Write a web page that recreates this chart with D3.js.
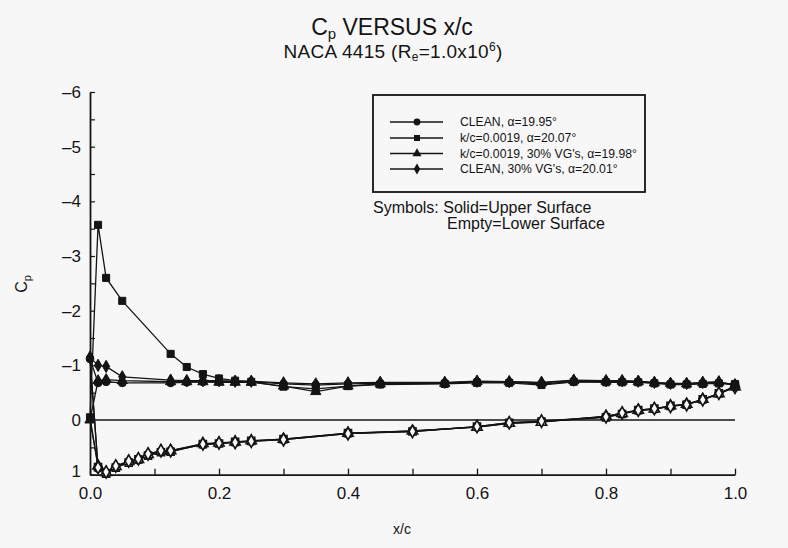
<!DOCTYPE html>
<html><head><meta charset="utf-8">
<script src="https://cdn.jsdelivr.net/npm/d3@7"></script>
<style>
html,body{margin:0;padding:0;background:#f7f7f7;}
svg{display:block;font-family:"Liberation Sans",Arial,sans-serif;}
</style></head>
<body>
<svg id="c" width="788" height="548"></svg>
<script>
// ---- data ----
const seriesNames = ["CLEAN, \u03b1=19.95\u00b0", "k/c=0.0019, \u03b1=20.07\u00b0", "k/c=0.0019, 30% VG's, \u03b1=19.98\u00b0", "CLEAN, 30% VG's, \u03b1=20.01\u00b0"];
const xUpper = [0, 0.0125, 0.025, 0.05, 0.125, 0.15, 0.175, 0.2, 0.225, 0.25, 0.3, 0.35, 0.4, 0.45, 0.55, 0.6, 0.65, 0.7, 0.75, 0.8, 0.825, 0.85, 0.875, 0.9, 0.925, 0.95, 0.975, 1.0];
const cpUpperClean   = [-1.12,-0.68,-0.70,-0.68,-0.68,-0.69,-0.70,-0.70,-0.70,-0.70,-0.66,-0.64,-0.66,-0.67,-0.68,-0.70,-0.69,-0.66,-0.70,-0.70,-0.70,-0.70,-0.68,-0.66,-0.66,-0.67,-0.68,-0.64];
const cpUpperRough   = [-0.05,-3.57,-2.60,-2.18,-1.21,-0.97,-0.84,-0.76,-0.72,-0.70,-0.61,-0.57,-0.62,-0.65,-0.66,-0.68,-0.68,-0.64,-0.70,-0.69,-0.69,-0.69,-0.67,-0.65,-0.65,-0.66,-0.67,-0.66];
const cpUpperRoughVG = [0.00,-0.72,-0.74,-0.72,-0.70,-0.70,-0.70,-0.69,-0.69,-0.69,-0.62,-0.52,-0.62,-0.66,-0.67,-0.70,-0.70,-0.68,-0.72,-0.71,-0.71,-0.70,-0.68,-0.67,-0.66,-0.68,-0.69,-0.65];
const cpUpperCleanVG = [-1.15,-1.00,-0.98,-0.79,-0.73,-0.72,-0.72,-0.72,-0.71,-0.71,-0.68,-0.66,-0.68,-0.69,-0.69,-0.71,-0.70,-0.69,-0.73,-0.72,-0.72,-0.71,-0.69,-0.67,-0.67,-0.69,-0.70,-0.63];
const xLower = [0.0125, 0.025, 0.04, 0.06, 0.075, 0.09, 0.11, 0.125, 0.175, 0.2, 0.225, 0.25, 0.3, 0.4, 0.5, 0.6, 0.65, 0.7, 0.8, 0.825, 0.85, 0.875, 0.9, 0.925, 0.95, 0.975, 1.0];
const cpLowerClean   = [0.88,0.97,0.86,0.77,0.73,0.64,0.58,0.57,0.45,0.43,0.41,0.39,0.36,0.25,0.20,0.13,0.06,0.03,-0.06,-0.12,-0.17,-0.20,-0.25,-0.29,-0.37,-0.48,-0.60];
const cpLowerRough   = [0.86,0.98,0.87,0.78,0.72,0.65,0.59,0.58,0.44,0.43,0.40,0.38,0.35,0.24,0.21,0.12,0.05,0.03,-0.05,-0.11,-0.18,-0.21,-0.26,-0.28,-0.38,-0.49,-0.62];
const cpLowerRoughVG = [0.84,0.96,0.85,0.76,0.72,0.63,0.57,0.56,0.43,0.42,0.40,0.38,0.35,0.24,0.20,0.13,0.06,0.04,-0.07,-0.12,-0.18,-0.20,-0.26,-0.29,-0.38,-0.48,-0.61];
const cpLowerCleanVG = [0.87,0.95,0.84,0.75,0.71,0.62,0.56,0.56,0.44,0.42,0.41,0.39,0.36,0.25,0.21,0.12,0.05,0.02,-0.06,-0.13,-0.18,-0.21,-0.25,-0.28,-0.37,-0.49,-0.60];
const xTicks = [0, 0.1, 0.2, 0.3, 0.4, 0.5, 0.6, 0.7, 0.8, 0.9, 1.0];
const yTicks = [-6, -5.5, -5, -4.5, -4, -3.5, -3, -2.5, -2, -1.5, -1, -0.5, 0, 0.5, 1];

const series = [
  {name: seriesNames[0], sym: d3.symbolCircle,   size: 48, up: cpUpperClean,   lo: cpLowerClean},
  {name: seriesNames[1], sym: d3.symbolSquare,   size: 50, up: cpUpperRough,   lo: cpLowerRough},
  {name: seriesNames[2], sym: d3.symbolTriangle, size: 46, up: cpUpperRoughVG, lo: cpLowerRoughVG},
  {name: seriesNames[3], sym: d3.symbolDiamond,  size: 44, up: cpUpperCleanVG, lo: cpLowerCleanVG}
];

// ---- drawing ----
const svg = d3.select("#c");
const ink = "#141414";
svg.append("rect").attr("width",788).attr("height",548).attr("fill","#f7f7f7");

const x = d3.scaleLinear().domain([0,1]).range([90,735]);
const y = d3.scaleLinear().domain([-6,1]).range([92,474.7]);

// title
const t = svg.append("text").attr("x",392).attr("y",35).attr("text-anchor","middle")
  .attr("font-size",23).attr("fill",ink);
t.append("tspan").text("C");
t.append("tspan").attr("font-size",15).attr("dy",4).text("p");
t.append("tspan").attr("dy",-4).text(" VERSUS x/c");
const st = svg.append("text").attr("x",393).attr("y",58).attr("text-anchor","middle")
  .attr("font-size",19).attr("letter-spacing",0.3).attr("fill",ink);
st.append("tspan").text("NACA 4415 (R");
st.append("tspan").attr("font-size",12).attr("dy",3).text("e");
st.append("tspan").attr("dy",-3).text("=1.0x10");
st.append("tspan").attr("font-size",12).attr("dy",-7).text("6");
st.append("tspan").attr("dy",7).text(")");

// axes
const fmtX = d => (Math.round(d*10)%2===0) ? d3.format(".1f")(d) : "";
const gx = svg.append("g").attr("transform",`translate(0,${y(1)})`)
  .call(d3.axisBottom(x).tickValues(xTicks).tickSizeInner(-6).tickSizeOuter(0).tickPadding(12).tickFormat(fmtX));
gx.selectAll("text").attr("font-size",17).attr("fill",ink).attr("font-family","Liberation Sans, Arial, sans-serif");
gx.selectAll("line").attr("stroke",ink).attr("stroke-width",1.3);
gx.select(".domain").attr("stroke",ink).attr("stroke-width",1.8);

const fmtY = d => Number.isInteger(d) ? (d<0 ? "\u2013"+(-d) : String(d)) : "";
const gy = svg.append("g").attr("transform",`translate(${x(0)},0)`)
  .call(d3.axisLeft(y).tickValues(yTicks).tickSizeInner(-5).tickSizeOuter(0).tickPadding(9).tickFormat(fmtY));
gy.selectAll("text").attr("font-size",17).attr("fill",ink).attr("font-family","Liberation Sans, Arial, sans-serif");
gy.selectAll("line").attr("stroke",ink).attr("stroke-width",1.2);
gy.select(".domain").attr("stroke",ink).attr("stroke-width",1.8);
gy.selectAll(".tick").filter(d => d===1).select("text").attr("dy","0.1em");

// axis titles
const yl = svg.append("text").attr("transform","translate(27,284) rotate(-90)").attr("text-anchor","middle")
  .attr("font-size",16).attr("fill",ink);
yl.append("tspan").text("C");
yl.append("tspan").attr("font-size",11).attr("dy",4).text("p");
svg.append("text").attr("x",402).attr("y",534).attr("text-anchor","middle").attr("font-size",14).attr("fill",ink).text("x/c");

// zero line
svg.append("line").attr("x1",x(0)).attr("x2",x(1)).attr("y1",y(0)).attr("y2",y(0))
  .attr("stroke",ink).attr("stroke-width",1.5);

// series lines
const line = d3.line().x(d=>x(d[0])).y(d=>y(d[1]));
series.forEach(s => {
  const lower = xLower.map((xx,i)=>[xx, s.lo[i]]).reverse();
  const upper = xUpper.map((xx,i)=>[xx, s.up[i]]);
  svg.append("path").attr("d", line(lower.concat(upper))).attr("fill","none")
    .attr("stroke",ink).attr("stroke-width",1.3);
});
// markers
series.forEach(s => {
  const sym = d3.symbol().type(s.sym).size(s.size);
  svg.append("g").selectAll("path").data(xLower.map((xx,i)=>[xx, s.lo[i]])).join("path")
    .attr("d", sym).attr("transform", d=>`translate(${x(d[0])},${y(d[1])})`)
    .attr("fill","#f7f7f7").attr("stroke",ink).attr("stroke-width",1.6);
  svg.append("g").selectAll("path").data(xUpper.map((xx,i)=>[xx, s.up[i]])).join("path")
    .attr("d", sym).attr("transform", d=>`translate(${x(d[0])},${y(d[1])})`)
    .attr("fill",ink).attr("stroke",ink).attr("stroke-width",1);
});

// legend
svg.append("rect").attr("x",373).attr("y",95).attr("width",272).attr("height",97)
  .attr("fill","none").attr("stroke",ink).attr("stroke-width",1.8);
const ly = [122, 138, 153.5, 169];
series.forEach((s,i) => {
  svg.append("line").attr("x1",390).attr("x2",443).attr("y1",ly[i]).attr("y2",ly[i]).attr("stroke",ink).attr("stroke-width",1.4);
  svg.append("path").attr("d", d3.symbol().type(s.sym).size(36)()).attr("transform",`translate(417,${ly[i]})`).attr("fill",ink);
  svg.append("text").attr("x",460).attr("y",ly[i]).attr("dy","0.35em").attr("font-size",12.2).attr("fill",ink).text(s.name);
});
svg.append("text").attr("x",373).attr("y",207).attr("dy","0.35em").attr("font-size",16).attr("fill",ink).text("Symbols: Solid=Upper Surface");
svg.append("text").attr("x",447).attr("y",223).attr("dy","0.35em").attr("font-size",16).attr("fill",ink).text("Empty=Lower Surface");
</script>
</body></html>
